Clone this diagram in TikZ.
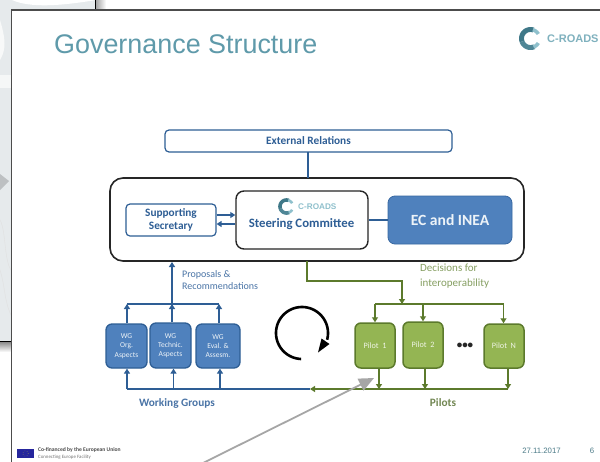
\documentclass[tikz,border=0pt]{standalone}
\usepackage{fontspec}
\setmainfont{Carlito}
\newfontfamily\arialfont{Liberation Sans}
\usetikzlibrary{arrows.meta,calc,shadows}
\definecolor{bluefill}{HTML}{4F81BD}
\definecolor{blueline}{HTML}{2E5E95}
\definecolor{bluetext}{HTML}{4A74A6}
\definecolor{greenfill}{HTML}{94B553}
\definecolor{greenline}{HTML}{5C7A2C}
\definecolor{greentext}{HTML}{869F62}
\definecolor{titleteal}{HTML}{5F9AAA}
\definecolor{mapgray}{HTML}{E6EAEC}
\definecolor{logodark}{HTML}{3F7888}
\definecolor{logolight}{HTML}{8FC0CC}
\tikzset{
  at box/.style args={#1/#2/#3/#4}{minimum width={(#3-#1)*1pt},minimum height={(#4-#2)*1pt},inner sep=0pt,anchor=center,at={({(#1+#3)/2},{(#2+#4)/2})}},
  outlinebox/.style={draw=blueline,fill=white,rounded corners=4pt,line width=1.2pt,text=blueline,font=\bfseries\fontsize{11.3}{13}\selectfont,align=center},
  blackbox/.style={draw=black!85,fill=white,line width=1.4pt},
  wgbox/.style={draw=blueline,fill=bluefill,rounded corners=6pt,line width=1.3pt,text=white!90!bluefill,font=\fontsize{7.5}{9.3}\selectfont,align=center},
  pilotbox/.style={draw=greenline,fill=greenfill,rounded corners=6pt,line width=1.5pt,text=white!85!greenfill,font=\fontsize{8.2}{9.3}\selectfont,align=center},
  blueconn/.style={draw=blueline,line width=1.8pt},
  greenconn/.style={draw=greenline,line width=1.8pt},
  bluetip/.style={blueconn,-{Triangle[length=5pt,width=6pt]}},
  greentip/.style={greenconn,-{Triangle[length=5pt,width=6pt]}},
  labelblue/.style={text=bluetext,inner sep=0pt,font=\fontsize{10}{12.5}\selectfont,align=left},
  labelgreen/.style={text=greentext,inner sep=0pt,font=\fontsize{11}{15}\selectfont,align=left},
  grouptext/.style={inner sep=0pt,font=\bfseries\fontsize{11.3}{13}\selectfont},
  pics/crlogo/.style={code={
    \draw[line width=#1*0.55pt,logodark] plot[domain=70:200,samples=24] ({#1*cos(\x)},{-#1*sin(\x)});
    \draw[line width=#1*0.55pt,logodark!80!logolight] plot[domain=200:295,samples=24] ({#1*cos(\x)},{-#1*sin(\x)});
    \draw[line width=#1*0.4pt,logolight] plot[domain=30:75,samples=10] ({#1*cos(\x)},{-#1*sin(\x)});
    \draw[line width=#1*0.4pt,logolight] plot[domain=290:330,samples=10] ({#1*cos(\x)},{-#1*sin(\x)});
  }},
}
\begin{document}
\begin{tikzpicture}[x=1pt,y=-1pt]
\useasboundingbox (0,0) rectangle (600,461);
\clip (0,0) rectangle (600,461);
\fill[white] (0,0) rectangle (600,461);
% map panel behind the slide
\fill[mapgray] (0,0) rectangle (96,342);
\fill[white] (12,0) .. controls (30,8) and (60,6) .. (96,0) -- cycle;
\fill[white!70!mapgray] (0,20) .. controls (6,40) and (6,50) .. (0,60) -- cycle;
\fill[white!60!mapgray] (0,75) rectangle (11,88);
\fill[black!18!mapgray] (0,174) -- (9,181) -- (0,190) -- cycle;
\draw[white!88!black,line width=.4pt] (0,220) .. controls (6,230) and (4,260) .. (11,270);
\draw[white!88!black,line width=.4pt] (0,270) .. controls (5,285) and (4,300) .. (11,315);
% panel border and shadow
\shade[top color=black!45,bottom color=white] (0,342) rectangle (11,352);
\shade[left color=black!35,right color=white] (96,0) rectangle (106,10);
\draw[black,line width=.8pt] (0,341.5) -- (96,341.5);
\draw[black,line width=.8pt] (95.5,0) -- (95.5,342);
% slide
\fill[white] (11,10) rectangle (601,462);
\draw[black!70,line width=1.2pt] (601,10) -- (11.5,10) -- (11.5,462);
\node[anchor=base west,inner sep=0pt,text=titleteal,font=\arialfont\fontsize{26.9}{30}\selectfont] (title) at (54,53) {Governance Structure};
\path (530.5,38.5) pic {crlogo=9};
\node[anchor=west,inner sep=0pt,text=logolight!80!logodark,font=\bfseries\arialfont\fontsize{11}{12}\selectfont] (logotext) at (547,38.5) {C-ROADS};
% main structure
\node[outlinebox,at box=165/130/452/152] (ext) {External Relations};
\node[blackbox,rounded corners=13pt,line width=1.6pt,at box=110/178/524/261] (outer) {};
\node[outlinebox,at box=126/204/216/236] (sec) {Supporting\\Secretary};
\node[blackbox,rounded corners=8pt,at box=236/191/368/249] (steer) {};
\node[anchor=base,inner sep=0pt,text=blueline,font=\bfseries\fontsize{12.8}{14}\selectfont] (steertext) at (301.5,227) {Steering Committee};
\path (286.5,206.5) pic {crlogo=6.5};
\node[anchor=west,inner sep=0pt,text=logolight,font=\bfseries\arialfont\fontsize{8.2}{9}\selectfont] (steerlogo) at (298,206.5) {C-ROADS};
\node[draw=blueline!70!bluefill,fill=bluefill,rounded corners=7pt,line width=.8pt,text=white!90!bluefill,font=\bfseries\fontsize{15.6}{17}\selectfont,at box=388/196/512/244] (ec) {EC and INEA};
% WG boxes
\node[wgbox,at box=106/324/147/368] (wg1) {WG\\Org.\\Aspects};
\node[wgbox,at box=150/323/191/368] (wg2) {WG\\Technic.\\Aspects};
\node[wgbox,at box=196/324/240/368] (wg3) {WG\\Eval. \&\\Assesm.};
% Pilots
\node[pilotbox,at box=355/323/395/368] (p1) {Pilot\ \ 1};
\node[pilotbox,at box=403/322/443/368] (p2) {Pilot\ \ 2};
\node[pilotbox,at box=484/324/524/368] (pn) {Pilot\ \ N};
\node[inner sep=0pt,font=\bfseries\fontsize{11}{11}\selectfont,text=black!85] (dots) at (465,346) {•••};
% junctions
\coordinate (extdrop) at (308,152);
\coordinate (outertop) at (308,178);
\coordinate (wgbus) at (172,304);
\coordinate (outerin) at (172,262);
\coordinate (wgbusl) at (127,304);
\coordinate (wgbusr) at (219,304);
\coordinate (wgbot) at (127,389);
\coordinate (wgbotm) at (173.5,389);
\coordinate (wgbotr) at (220,389);
\coordinate (meet) at (310,389);
\coordinate (p1bot) at (379,389);
\coordinate (p2bot) at (425,389);
\coordinate (pnbot) at (508,389);
\coordinate (steerdrop) at (307,261);
\coordinate (g1) at (307,281);
\coordinate (g2) at (402,281);
\coordinate (g3) at (402,304);
\coordinate (gl) at (375,304);
\coordinate (gm) at (423,304);
\coordinate (gr) at (503.5,304);
% blue connectors
\draw[blueconn] (extdrop) -- (outertop);
\draw[blueconn,line width=1.2pt] (steer.east |- ec.west) -- (ec.west);
\draw[bluetip] (sec.east |- 0,215) -- (steer.west |- 0,215);
\draw[bluetip] (steer.west |- 0,224) -- (sec.east |- 0,224);
\draw[bluetip,line width=2pt] (wgbus) -- (outerin);
\draw[blueconn] (wgbusl) -- (wgbusr);
\draw[bluetip] (wg1.north -| wgbusl) -- (wgbusl);
\draw[bluetip] (wg2.north -| wgbus) -- (wgbus);
\draw[bluetip] (wg3.north -| wgbusr) -- (wgbusr);
\draw[bluetip] (wgbot) -- (wgbot |- wg1.south);
\draw[bluetip] (wgbotm) -- (wgbotm |- wg2.south);
\draw[bluetip] (wgbotr) -- (wgbotr |- wg3.south);
\draw[blueconn] (wgbot) -- (meet);
% green connectors
\draw[greentip] (steerdrop) -- (g1) -- (g2) -- (g3);
\draw[greenconn] (gl) -- (gr);
\draw[greentip] (gl) -- (gl |- p1.north);
\draw[greentip] (gm) -- (gm |- p2.north);
\draw[greentip] (gr) -- (gr |- pn.north);
\draw[greentip] (p1bot |- p1.south) -- (p1bot);
\draw[greentip] (p2bot |- p2.south) -- (p2bot);
\draw[greentip] (pnbot |- pn.south) -- (pnbot);
\draw[greentip] (pnbot) -- (meet);
% labels
\node[labelblue,anchor=north west] (prop) at (182,270) {Proposals \&\\Recommendations};
\node[labelgreen,anchor=north west] (dec) at (420,264) {Decisions for\\interoperability};
\node[grouptext,text=bluetext] (wglabel) at (177,403) {Working Groups};
\node[grouptext,text=greentext!85!black] (pilotlabel) at (443,403) {Pilots};
% cycle arrow
\draw[black,line width=2.6pt] plot[domain=92:375,samples=70] ({302+26*cos(\x)},{333+26*sin(\x)});
\fill[black] (318,352.5) -- (329.5,344) -- (321.5,338.5) -- cycle;
% grey pointer
\coordinate (greystart) at (200,464.5);
\coordinate (greytip) at (374,378);
\draw[black!35,line width=1.8pt,-{Triangle[length=15pt,width=13pt]}] (greystart) -- (greytip);
% footer
\node[fill=blue!55!black!85!white,minimum width=17pt,minimum height=9.5pt,inner sep=0pt] (flag) at (25.5,453.5) {};
\draw[yellow!70!black,line width=.4pt,dotted] (flag.center) circle (2.8);
\node[anchor=west,inner sep=0pt,text=black!70,font=\bfseries\fontsize{5.6}{6}\selectfont] (cofin) at (38,450) {Co-financed by the European Union};
\node[anchor=west,inner sep=0pt,text=black!55,font=\fontsize{4.9}{6}\selectfont] (cef) at (38,457) {Connecting Europe Facility};
\node[inner sep=0pt,text=titleteal!80!black,font=\arialfont\fontsize{7.8}{9}\selectfont] (date) at (541.5,451) {27.11.2017};
\node[inner sep=0pt,text=titleteal!80!black,font=\arialfont\fontsize{7.8}{9}\selectfont] (num) at (592,451) {6};
\end{tikzpicture}
\end{document}
